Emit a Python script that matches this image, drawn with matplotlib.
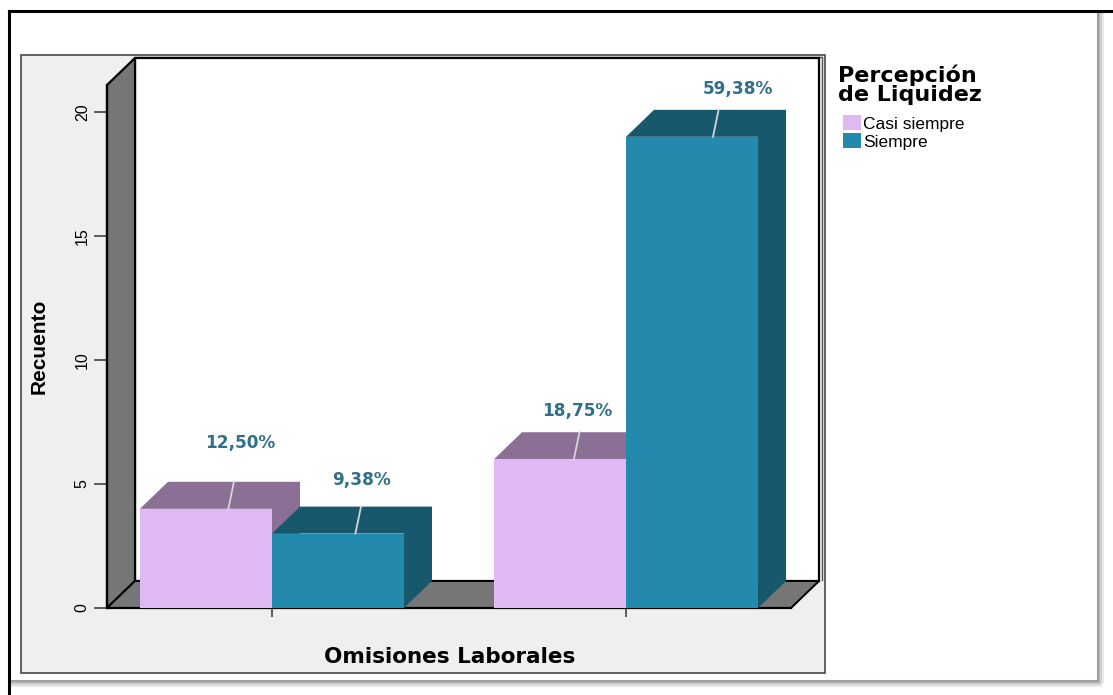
import matplotlib
matplotlib.use("Agg")
import matplotlib.pyplot as plt
from matplotlib.patches import Polygon, Rectangle

# values
groups = [0, 1]
series_names = ["Casi siempre", "Siempre"]
casi_siempre = [4, 6]
siempre = [3, 19]
casi_labels = ["12,50%", "18,75%"]
siempre_labels = ["9,38%", "59,38%"]
y_ticks = [0, 5, 10, 15, 20]

W, H = 1113, 695
PINK, PINK_DARK = "#DFB9F3", "#8B7096"
TEAL, TEAL_DARK = "#238AAD", "#17586C"
WALL = "#767676"

fig = plt.figure(figsize=(W / 100, H / 100), dpi=100, facecolor="white")

# page frame and grey panel, in pixels
bg = fig.add_axes([0, 0, 1, 1], zorder=0)
bg.set_xlim(0, W)
bg.set_ylim(H, 0)
bg.axis("off")
for i, c in enumerate(["#A0A0A0", "#B4B4B4", "#D0D0D0", "#E8E8E8"]):
    bg.plot([1098 + i * 1.5] * 2, [14, 680 + i], color=c, lw=1.5)
    bg.plot([12, 1098 + i], [681 + i * 1.5] * 2, color=c, lw=1.5)
bg.plot([9, 9], [H, 11], color="black", lw=2.2)
bg.plot([9, W], [11, 11], color="black", lw=2.2)
bg.add_patch(Rectangle((21, 55), 804, 618, fc="#EFEFEF", ec="#555555", lw=1.3))
bg.plot([822, 822], [58, 580], color="#555555", lw=1)
bg.plot([135, 822], [57, 57], color="#555555", lw=1)

# front plane of the 3D box
ax = fig.add_axes([107 / W, (H - 608) / H, 684 / W, 523 / H], zorder=1)
ax.patch.set_alpha(0)
xmin, xmax = -0.466, 1.466
ymax = 21.09
ax.set_xlim(xmin, xmax)
ax.set_ylim(0, ymax)
dx, dy = 28 / 354, 27 / 24.8
bar_w = 132 / 354

ax.add_patch(Rectangle((xmin + dx, dy), xmax - xmin, ymax, fc="white", ec="black",
                       lw=1.6, clip_on=False, zorder=1))
ax.add_patch(Polygon([(xmin, 0), (xmin + dx, dy), (xmin + dx, ymax + dy), (xmin, ymax)],
                     fc=WALL, ec="black", lw=1.6, clip_on=False, zorder=2))
ax.add_patch(Polygon([(xmin, 0), (xmax, 0), (xmax + dx, dy), (xmin + dx, dy)],
                     fc=WALL, ec="black", lw=1.4, clip_on=False, zorder=2))


def bar3d(x0, h, front, dark, z):
    ax.add_patch(Polygon([(x0, h), (x0 + dx, h + dy), (x0 + bar_w + dx, h + dy),
                          (x0 + bar_w + dx, dy), (x0 + bar_w, 0), (x0 + bar_w, h)],
                         fc=dark, ec="none", clip_on=False, zorder=z))
    ax.add_patch(Rectangle((x0, 0), bar_w, h, fc=front, ec="none", clip_on=False, zorder=z + 0.1))


# offsets of leader lines and labels from the bar centre, in x data units
line_off = [[0.079, 0.065], [0.055, 0.075]]
text_off = [[0.096, 0.065], [0.048, 0.130]]
text_up = [1.57, 1.09, 0.85, 0.85]

n = 0
for i, g in enumerate(groups):
    for j, (vals, labs, front, dark) in enumerate([(casi_siempre, casi_labels, PINK, PINK_DARK),
                                                   (siempre, siempre_labels, TEAL, TEAL_DARK)]):
        x0 = g - bar_w if j == 0 else g
        h = vals[i]
        bar3d(x0, h, front, dark, 3 + n)
        cx = x0 + bar_w / 2
        ax.plot([cx + line_off[i][j] - dx * 0.2, cx + line_off[i][j]], [h, h + dy],
                color="#D5D5D5", lw=1.3, clip_on=False, zorder=3.5 + n)
        ax.text(cx + text_off[i][j], h + dy + text_up[n], labs[i], ha="center", va="center",
                color="#2F7088", fontsize=12.2, fontweight="bold", family="DejaVu Sans", zorder=10)
        n += 1

for s in ["top", "right"]:
    ax.spines[s].set_visible(False)
for s in ["left", "bottom"]:
    ax.spines[s].set_linewidth(1.6)
    ax.spines[s].set_zorder(2.5)
ax.set_xticks(groups)
ax.set_xticklabels(["", ""])
ax.set_yticks(y_ticks)
ax.tick_params(axis="y", length=9.4, width=1.1, color="#333333", pad=3)
ax.tick_params(axis="x", length=6.5, width=1.1, color="#333333")
for t in ax.get_yticklabels():
    t.set_rotation(90)
    t.set_va("center")
    t.set_family("Liberation Sans")
    t.set_fontsize(11.5)

fig.text(449.5 / W, 1 - 657 / H, "Omisiones Laborales", ha="center", va="center",
         fontsize=15.5, fontweight="bold", family="DejaVu Sans")
fig.text(39 / W, 1 - 346 / H, "Recuento", rotation=90, ha="center", va="center",
         fontsize=15, fontweight="bold", family="Liberation Sans")

# legend
fig.text(838 / W, 1 - 85 / H, "Percepción\nde Liquidez", ha="left", va="center", fontsize=16,
         fontweight="bold", family="DejaVu Sans", linespacing=0.95)
handles = [Rectangle((0, 0), 1, 1, fc=PINK), Rectangle((0, 0), 1, 1, fc=TEAL)]
fig.legend(handles, series_names, loc="upper left", bbox_to_anchor=(840 / W, 1 - 112 / H), frameon=False,
           prop={"family": "Liberation Sans", "size": 12.5}, handlelength=1.0, handleheight=0.95,
           handletextpad=0.15, labelspacing=0.08, borderpad=0.2, borderaxespad=0)

fig.savefig("out.png", dpi=100)
